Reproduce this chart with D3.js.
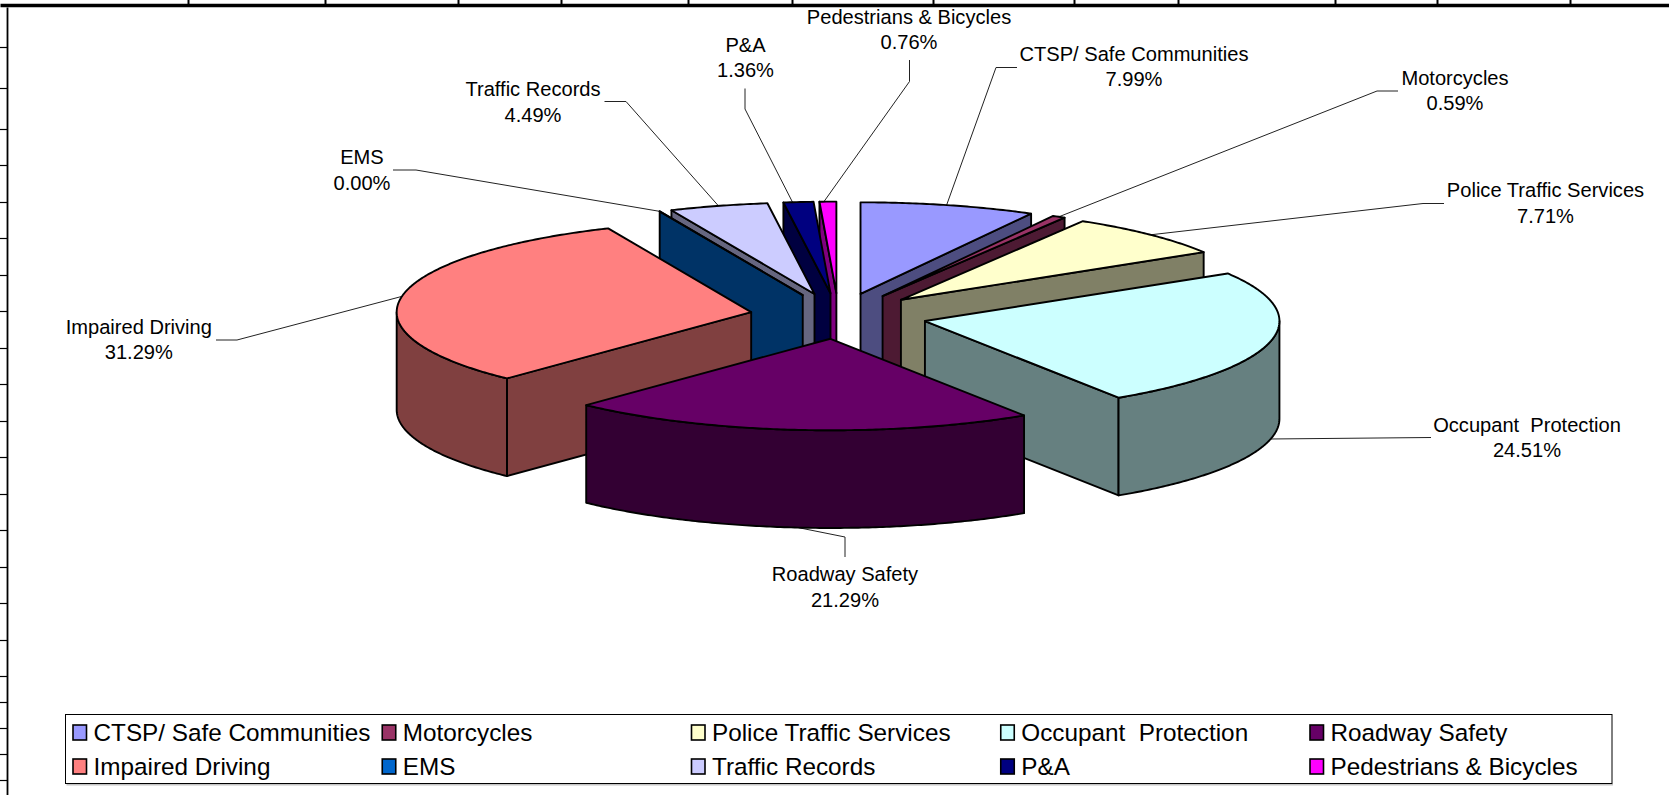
<!DOCTYPE html>
<html>
<head>
<meta charset="utf-8">
<title>Funding by program area</title>
<script src="https://cdn.jsdelivr.net/npm/d3@7"></script>
<style>
  html, body { margin: 0; padding: 0; background: #fff; overflow: hidden; }
  svg { display: block; }
  text { font-family: "Liberation Sans", Arial, sans-serif; fill: #000; white-space: pre; }
  .data-label { font-size: 20.1px; text-anchor: middle; }
  .legend-label { font-size: 24.3px; }
  .leader { fill: none; stroke: #222; stroke-width: 1px; }
  .face { stroke: #000; stroke-width: 1.9px; stroke-linejoin: round; }
  .grid .domain, .grid .tick line { stroke: #000; }
</style>
</head>
<body>
<svg width="1669" height="795"></svg>
<script>
  const categories = [
    'CTSP/ Safe Communities', 'Motorcycles', 'Police Traffic Services',
    'Occupant  Protection', 'Roadway Safety', 'Impaired Driving',
    'EMS', 'Traffic Records', 'P&A', 'Pedestrians & Bicycles'
  ];
  const shares = [7.99, 0.59, 7.71, 24.51, 21.29, 31.29, 0.00, 4.49, 1.36, 0.76];
  const colors = [
    '#9999FF', '#993366', '#FFFFCC', '#CCFFFF', '#660066',
    '#FF8080', '#0066CC', '#CCCCFF', '#000080', '#FF00FF'
  ];
  // back to front
  const drawOrder = [
    'Pedestrians & Bicycles', 'P&A', 'Traffic Records', 'EMS',
    'CTSP/ Safe Communities', 'Motorcycles', 'Police Traffic Services',
    'Occupant  Protection', 'Impaired Driving', 'Roadway Safety'
  ];

  // spreadsheet cell borders showing around the chart
  const topTicks = [188, 325, 458, 561, 688, 792, 933, 1074, 1178, 1335, 1437, 1570];
  const leftTicks = [47, 88, 129, 165, 202, 238, 275, 311, 348, 384, 421, 457, 494,
    530, 567, 603, 640, 676, 702, 728, 754, 780];

  // hand placed labels: text centre, first baseline, elbow of the leader line
  const labelLayout = {
    'CTSP/ Safe Communities': { x: 1134, y: 60.5, from: [1017, 67.5], elbow: [996, 67.5], nudge: -2 },
    'Motorcycles': { x: 1455, y: 84.5, from: [1398, 91], elbow: [1377, 91], nudge: 0 },
    'Police Traffic Services': { x: 1545.5, y: 197, from: [1444, 203.5], elbow: [1423, 203.5], nudge: 0 },
    'Occupant  Protection': { x: 1527, y: 431.5, from: [1431, 437.5], elbow: null, nudge: 0 },
    'Roadway Safety': { x: 845, y: 581, from: [845, 557], elbow: [845, 537], nudge: 0 },
    'Impaired Driving': { x: 138.8, y: 333.5, from: [216, 340], elbow: [237, 340], nudge: 0 },
    'EMS': { x: 362, y: 164, from: [393, 170], elbow: [416, 170], nudge: 0 },
    'Traffic Records': { x: 533, y: 96, from: [604.5, 101.5], elbow: [626, 101.5], nudge: 0 },
    'P&A': { x: 745.5, y: 51.5, from: [745, 88.5], elbow: [745, 109], nudge: -6 },
    'Pedestrians & Bicycles': { x: 909, y: 23.5, from: [909.5, 60], elbow: [909.5, 81.5], nudge: -4 }
  };
  const labelLineGap = 25.6;

  const svg = d3.select('svg');
  const width = +svg.attr('width');
  const height = +svg.attr('height');

  const centerX = 838.5;
  const centerY = 316;
  const radiusX = 354.5;
  const radiusY = 91.5;
  const depth = 97.7;
  const explosion = 0.25;

  // the pie lies on a unit disk, these scales flatten it on the page
  const xScale = d3.scaleLinear().domain([-1, 1]).range([centerX - radiusX, centerX + radiusX]);
  const yScale = d3.scaleLinear().domain([1, -1]).range([centerY - radiusY, centerY + radiusY]);
  const colorScale = d3.scaleOrdinal().domain(categories).range(colors);

  const slices = d3.pie().sort(null).value(d => d)(shares).map((s, i) => {
    const mid = (s.startAngle + s.endAngle) / 2;
    return {
      name: categories[i],
      share: shares[i],
      start: s.startAngle,
      end: s.endAngle,
      mid,
      ox: explosion * Math.sin(mid),
      oy: explosion * Math.cos(mid)
    };
  });

  const apex = s => [xScale(s.ox), yScale(s.oy)];
  const rim = (s, a, down = 0) => [
    xScale(s.ox + Math.sin(a)),
    yScale(s.oy + Math.cos(a)) + down
  ];
  const anglesBetween = (a, b) => {
    const n = Math.max(1, Math.ceil((b - a) / 0.01));
    return d3.range(n + 1).map(i => a + (b - a) * i / n);
  };

  const line = d3.line();
  const closed = pts => line(pts) + 'Z';

  // ---- cell borders
  const gridX = d3.scaleIdentity().domain([0, width]);
  const gridY = d3.scaleIdentity().domain([7, height]);

  svg.append('g')
    .attr('class', 'grid')
    .attr('transform', 'translate(0,5)')
    .call(d3.axisTop(gridX).tickValues(topTicks).tickFormat('').tickSizeInner(5).tickSizeOuter(0))
    .call(g => g.select('.domain').attr('stroke-width', 3.4))
    .call(g => g.selectAll('.tick line').attr('stroke-width', 2));

  svg.append('g')
    .attr('class', 'grid')
    .attr('transform', 'translate(7,0)')
    .call(d3.axisLeft(gridY).tickValues(leftTicks).tickFormat('').tickSizeInner(7).tickSizeOuter(0))
    .call(g => g.select('.domain').attr('stroke-width', 1.8))
    .call(g => g.selectAll('.tick line').attr('stroke-width', 1.2));

  // ---- leader lines and data labels
  const labels = svg.append('g');
  slices.forEach(s => {
    const l = labelLayout[s.name];
    const tip = rim(s, s.mid, Math.cos(s.mid) < 0 ? depth : 0);
    const end = [tip[0] + l.nudge, tip[1]];
    const pts = l.elbow ? [l.from, l.elbow, end] : [l.from, end];
    labels.append('path').attr('class', 'leader').attr('d', line(pts));
    labels.append('text').attr('class', 'data-label')
      .attr('x', l.x).attr('y', l.y).text(s.name);
    labels.append('text').attr('class', 'data-label')
      .attr('x', l.x).attr('y', l.y + labelLineGap).text(d3.format('.2f')(s.share) + '%');
  });

  // ---- pie, painted back to front
  const pie = svg.append('g');
  const halfPi = Math.PI / 2;
  drawOrder.forEach(name => {
    const s = slices.find(d => d.name === name);
    const top = colorScale(name);
    const c = d3.rgb(top);
    const side = d3.rgb(c.r / 2, c.g / 2, c.b / 2).formatHex();
    const a = apex(s);

    // cut face under the edge turned to the viewer
    const onRight = s.mid < Math.PI;
    const cut = onRight ? s.end : s.start;
    const cutVisible = onRight ? cut < Math.PI : cut > Math.PI;
    if (cutVisible) {
      const p = rim(s, cut);
      pie.append('path').attr('class', 'face').attr('fill', side)
        .attr('d', closed([a, p, [p[0], p[1] + depth], [a[0], a[1] + depth]]));
    }

    // curved outer wall
    const from = Math.max(s.start, halfPi);
    const to = Math.min(s.end, 3 * halfPi);
    if (to > from) {
      const arc = anglesBetween(from, to);
      pie.append('path').attr('class', 'face').attr('fill', side)
        .attr('d', closed([
          ...arc.map(t => rim(s, t)),
          ...arc.slice().reverse().map(t => rim(s, t, depth))
        ]));
    }

    // top
    pie.append('path').attr('class', 'face').attr('fill', top)
      .attr('d', closed([a, ...anglesBetween(s.start, s.end).map(t => rim(s, t))]));
  });

  // ---- legend
  const legendBox = { x: 65.5, y: 714.5, w: 1546.5, h: 69 };
  const legend = svg.append('g');
  legend.append('line')
    .attr('x1', legendBox.x + 1).attr('x2', legendBox.x + legendBox.w + 1)
    .attr('y1', legendBox.y + legendBox.h + 1.2).attr('y2', legendBox.y + legendBox.h + 1.2)
    .attr('stroke', '#c4c4c4').attr('stroke-width', 1.4);
  legend.append('rect')
    .attr('x', legendBox.x).attr('y', legendBox.y)
    .attr('width', legendBox.w).attr('height', legendBox.h)
    .attr('fill', '#fff').attr('stroke', '#000').attr('stroke-width', 1);

  const legendColumn = d3.scalePoint().domain(d3.range(5)).range([73, 1310]);
  const legendRow = d3.scalePoint().domain([0, 1]).range([741, 775]);
  const entry = legend.selectAll('g.entry').data(categories).enter().append('g')
    .attr('class', 'entry')
    .attr('transform', (d, i) => `translate(${legendColumn(i % 5)},${legendRow(Math.floor(i / 5))})`);
  entry.append('rect')
    .attr('x', 0).attr('y', -16).attr('width', 13.5).attr('height', 15)
    .attr('fill', d => colorScale(d))
    .attr('stroke', '#000').attr('stroke-width', 1.6);
  entry.append('text').attr('class', 'legend-label')
    .attr('x', 20.5).attr('y', 0).text(d => d);
</script>
</body>
</html>
